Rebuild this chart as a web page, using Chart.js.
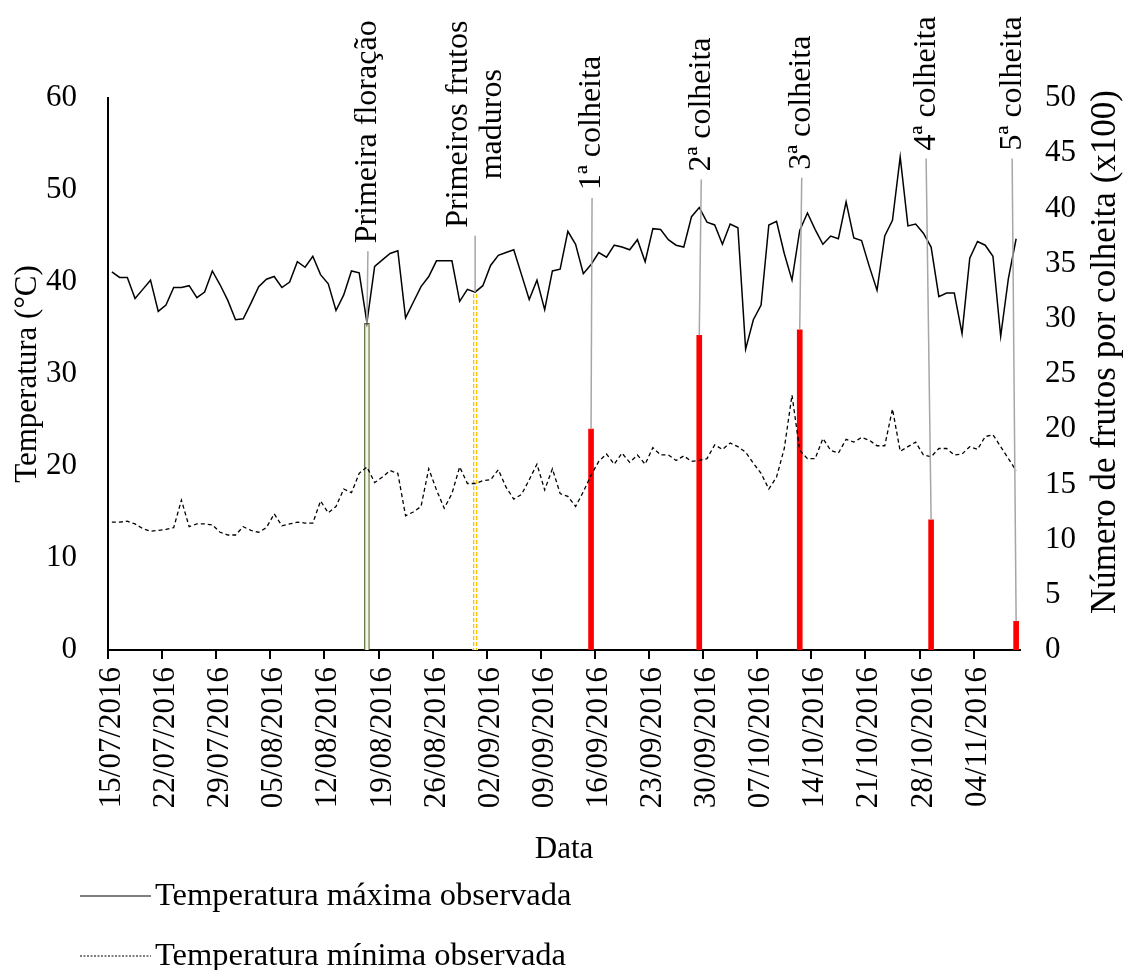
<!DOCTYPE html>
<html>
<head>
<meta charset="utf-8">
<script src="https://cdn.jsdelivr.net/npm/chart.js@4/dist/chart.umd.min.js"></script>
<style>
    html, body { margin: 0; padding: 0; background: #fff; }
    canvas { display: block; }
</style>
</head>
<body>
<canvas id="grafico" width="1124" height="970"></canvas>
<script>
// Datas (uma por dia, 15/07/2016 a 09/11/2016)
var datas = [
    "15/07/2016", "16/07/2016", "17/07/2016", "18/07/2016", "19/07/2016", "20/07/2016", "21/07/2016", "22/07/2016",
    "23/07/2016", "24/07/2016", "25/07/2016", "26/07/2016", "27/07/2016", "28/07/2016", "29/07/2016", "30/07/2016",
    "31/07/2016",
    "01/08/2016", "02/08/2016", "03/08/2016", "04/08/2016", "05/08/2016", "06/08/2016", "07/08/2016", "08/08/2016",
    "09/08/2016", "10/08/2016", "11/08/2016", "12/08/2016", "13/08/2016", "14/08/2016", "15/08/2016", "16/08/2016",
    "17/08/2016", "18/08/2016", "19/08/2016", "20/08/2016", "21/08/2016", "22/08/2016", "23/08/2016", "24/08/2016",
    "25/08/2016", "26/08/2016", "27/08/2016", "28/08/2016", "29/08/2016", "30/08/2016", "31/08/2016",
    "01/09/2016", "02/09/2016", "03/09/2016", "04/09/2016", "05/09/2016", "06/09/2016", "07/09/2016", "08/09/2016",
    "09/09/2016", "10/09/2016", "11/09/2016", "12/09/2016", "13/09/2016", "14/09/2016", "15/09/2016", "16/09/2016",
    "17/09/2016", "18/09/2016", "19/09/2016", "20/09/2016", "21/09/2016", "22/09/2016", "23/09/2016", "24/09/2016",
    "25/09/2016", "26/09/2016", "27/09/2016", "28/09/2016", "29/09/2016", "30/09/2016",
    "01/10/2016", "02/10/2016", "03/10/2016", "04/10/2016", "05/10/2016", "06/10/2016", "07/10/2016", "08/10/2016",
    "09/10/2016", "10/10/2016", "11/10/2016", "12/10/2016", "13/10/2016", "14/10/2016", "15/10/2016", "16/10/2016",
    "17/10/2016", "18/10/2016", "19/10/2016", "20/10/2016", "21/10/2016", "22/10/2016", "23/10/2016", "24/10/2016",
    "25/10/2016", "26/10/2016", "27/10/2016", "28/10/2016", "29/10/2016", "30/10/2016", "31/10/2016",
    "01/11/2016", "02/11/2016", "03/11/2016", "04/11/2016", "05/11/2016", "06/11/2016", "07/11/2016", "08/11/2016",
    "09/11/2016"
];

var tempMaxima = [
    41.1, 40.5, 40.5, 38.2, 39.2, 40.2, 36.8, 37.5, 39.4, 39.4, 39.6, 38.3, 38.9, 41.2, 39.7, 38.0, 35.9,
    36.0, 37.7, 39.5, 40.3, 40.6, 39.4, 40.0, 42.2, 41.6, 42.8, 40.8, 39.8, 36.9, 38.6, 41.2, 41.0,
    35.6, 41.7, 42.4, 43.1, 43.4, 36.1, 37.8, 39.5, 40.6, 42.3, 42.3, 42.3, 37.9, 39.2, 38.9,
    39.6, 41.8, 42.9, 43.2, 43.5, 40.8, 38.1, 40.2, 37.0, 41.2, 41.4, 45.5, 44.1, 40.9, 41.9,
    43.2, 42.7, 44.0, 43.8, 43.5, 44.6, 42.2, 45.8, 45.7, 44.6, 44.0, 43.8, 47.1, 48.1, 46.5,
    46.2, 44.1, 46.3, 45.9, 32.7, 35.9, 37.5, 46.2, 46.6, 43.1, 40.2, 45.6, 47.5, 45.7, 44.1, 45.0,
    44.7, 48.7, 44.8, 44.5, 41.7, 39.1, 45.0, 46.7, 53.6, 46.1, 46.3, 45.3, 43.8, 38.4, 38.8,
    38.8, 34.4, 42.6, 44.4, 44.0, 42.8, 34.1, 40.4, 44.7
];

var tempMinima = [
    13.9, 13.9, 14.0, 13.7, 13.2, 12.9, 13.0, 13.1, 13.3, 16.3, 13.4, 13.7, 13.7, 13.6, 12.8, 12.5, 12.5,
    13.4, 13.0, 12.8, 13.3, 14.8, 13.5, 13.7, 13.9, 13.8, 13.8, 16.2, 14.9, 15.6, 17.5, 17.1, 19.2,
    19.9, 18.2, 18.8, 19.5, 19.2, 14.6, 15.0, 15.6, 19.7, 17.4, 15.4, 17.0, 19.9, 18.1, 18.1,
    18.4, 18.5, 19.6, 17.7, 16.4, 16.9, 18.5, 20.2, 17.4, 19.7, 17.0, 16.7, 15.6, 17.2, 19.0,
    20.5, 21.3, 20.2, 21.4, 20.4, 21.2, 20.2, 22.0, 21.2, 21.2, 20.6, 21.1, 20.5, 20.6, 20.8,
    22.3, 21.8, 22.5, 22.1, 21.5, 20.3, 19.2, 17.5, 18.8, 21.9, 27.7, 21.7, 20.8, 20.8, 23.0, 21.7,
    21.4, 22.9, 22.6, 23.1, 22.8, 22.2, 22.2, 26.2, 21.6, 22.1, 22.6, 21.2, 21.0, 21.9, 21.9,
    21.2, 21.3, 22.1, 21.8, 23.2, 23.4, 22.1, 20.8, 19.5
];

// Colheitas (numero de frutos x100)
var colheitaDatas = ["15/09/2016", "29/09/2016", "12/10/2016", "29/10/2016", "09/11/2016"];
var colheitaFrutos = [20.0, 28.5, 29.0, 11.8, 2.6];
var colheitaNomes = ["1ª colheita", "2ª colheita", "3ª colheita", "4ª colheita", "5ª colheita"];

// Eventos fenologicos (altura da barra na escala de temperatura)
var eventoDatas = ["17/08/2016", "31/08/2016"];
var eventoAltura = [35.5, 38.9];

var fonte = '"Liberation Serif", "Times New Roman", serif';

function pontos(xs, ys) {
    return xs.map(function (x, i) { return { x: x, y: ys[i] }; });
};

// Barra com contorno amarelo tracejado (padrao desenhado na posicao da barra)
function contornoTracejado(c) {
    var xc = c.chart.scales.x.getPixelForValue(c.parsed ? c.parsed.x : 0);
    if (!isFinite(xc)) {
        return "#ffffff";
    };
    var tela = document.createElement("canvas");
    tela.width = Math.ceil(xc) + 6;
    tela.height = 6;
    var g = tela.getContext("2d");
    g.fillStyle = "#ffffff";
    g.fillRect(0, 0, tela.width, tela.height);
    g.fillStyle = "#ffc000";
    g.fillRect(Math.round(xc - 2.5), 0, 1.3, 4);
    g.fillRect(Math.round(xc + 1.3), 0, 1.3, 4);
    return c.chart.ctx.createPattern(tela, "repeat");
};

// Rotulos com linha de chamada: dataset, item, linhas de texto, base do texto (escala esquerda), deslocamento x
var marcos = [
    { dataset: 3, item: 0, texto: ["Primeira floração"], base: 44.2, dx: 1 },
    { dataset: 4, item: 0, texto: ["Primeiros frutos", "maduros"], base: 45.9, dx: 0 },
    { dataset: 2, item: 0, texto: [colheitaNomes[0]], base: 50.0, dx: 1 },
    { dataset: 2, item: 1, texto: [colheitaNomes[1]], base: 52.0, dx: 2 },
    { dataset: 2, item: 2, texto: [colheitaNomes[2]], base: 52.2, dx: 2 },
    { dataset: 2, item: 3, texto: [colheitaNomes[3]], base: 54.3, dx: -5 },
    { dataset: 2, item: 4, texto: [colheitaNomes[4]], base: 54.3, dx: -4 }
];

var rotulosPlugin = {
    id: "rotulos",
    afterDatasetsDraw: function (chart) {
        var ctx = chart.ctx;
        var yScale = chart.scales.y;
        ctx.save();
        ctx.font = "32px " + fonte;
        ctx.fillStyle = "#000";
        marcos.forEach(function (m) {
            var barra = chart.getDatasetMeta(m.dataset).data[m.item];
            var xTexto = barra.x + m.dx;
            var yBase = yScale.getPixelForValue(m.base);

            ctx.strokeStyle = "#a6a6a6";
            ctx.lineWidth = 1.5;
            ctx.setLineDash([]);
            ctx.beginPath();
            ctx.moveTo(xTexto, yBase + 8);
            ctx.lineTo(barra.x, barra.y);
            ctx.stroke();

            var largura = 0;
            m.texto.forEach(function (t) { largura = Math.max(largura, ctx.measureText(t).width); });
            ctx.save();
            ctx.translate(xTexto, yBase - largura / 2);
            ctx.rotate(-Math.PI / 2);
            ctx.textAlign = "center";
            ctx.textBaseline = "middle";
            m.texto.forEach(function (t, k) {
                ctx.fillText(t, 0, (k - (m.texto.length - 1) / 2) * 34);
            });
            ctx.restore();
        });
        ctx.restore();
    },
    afterDraw: function (chart) {
        var ctx = chart.ctx;
        ctx.save();
        ctx.fillStyle = "#000";

        // titulo do eixo secundario, lido de baixo para cima
        ctx.save();
        ctx.font = "35px " + fonte;
        ctx.translate(1106, 352);
        ctx.rotate(-Math.PI / 2);
        ctx.textAlign = "center";
        ctx.textBaseline = "middle";
        ctx.fillText("Número de frutos por colheita (x100)", 0, 0);
        ctx.restore();

        // legenda das temperaturas
        ctx.font = "32.5px " + fonte;
        [0, 1].forEach(function (k, n) {
            var ds = chart.data.datasets[k];
            var y = 896 + n * 60;
            ctx.strokeStyle = "#000";
            ctx.lineWidth = 1.2;
            ctx.setLineDash(k === 1 ? [2, 1.5] : []);
            ctx.beginPath();
            ctx.moveTo(80, y);
            ctx.lineTo(151, y);
            ctx.stroke();
            ctx.setLineDash([]);
            ctx.textAlign = "left";
            ctx.textBaseline = "middle";
            ctx.fillText(ds.label, 155, y);
        });
        ctx.restore();
    }
};

Chart.defaults.font.family = fonte;
Chart.defaults.font.size = 31;
Chart.defaults.color = "#000";

var ctx = document.getElementById("grafico").getContext("2d");

new Chart(ctx, {
    data: {
        labels: datas,
        datasets: [
            {
                type: "line",
                label: "Temperatura máxima observada",
                data: tempMaxima,
                borderColor: "#000",
                borderWidth: 1.5,
                pointRadius: 0,
                tension: 0,
                yAxisID: "y",
                order: 0
            },
            {
                type: "line",
                label: "Temperatura mínima observada",
                data: tempMinima,
                borderColor: "#000",
                borderWidth: 1.3,
                borderDash: [4, 3],
                pointRadius: 0,
                tension: 0,
                yAxisID: "y",
                order: 0
            },
            {
                type: "bar",
                label: "Colheitas",
                data: pontos(colheitaDatas, colheitaFrutos),
                backgroundColor: "#ff0000",
                barThickness: 5,
                grouped: false,
                yAxisID: "y1",
                order: 1
            },
            {
                type: "bar",
                label: "Primeira floração",
                data: pontos([eventoDatas[0]], [eventoAltura[0]]),
                backgroundColor: "#f4f7ec",
                borderColor: "#4f6228",
                borderWidth: 1.2,
                barThickness: 5,
                grouped: false,
                yAxisID: "y",
                order: 1
            },
            {
                type: "bar",
                label: "Primeiros frutos maduros",
                data: pontos([eventoDatas[1]], [eventoAltura[1]]),
                backgroundColor: contornoTracejado,
                borderWidth: 0,
                barThickness: 5,
                grouped: false,
                yAxisID: "y",
                order: 1
            }
        ]
    },
    options: {
        responsive: false,
        animation: false,
        layout: { padding: { top: 98, bottom: 100, left: 0, right: 0 } },
        plugins: {
            legend: { display: false },
            tooltip: { enabled: false }
        },
        scales: {
            x: {
                type: "category",
                offset: true,
                grid: {
                    display: true,
                    offset: true,
                    drawOnChartArea: false,
                    drawTicks: true,
                    tickLength: 9,
                    lineWidth: 2,
                    color: function (c) { return c.index % 7 === 0 ? "#000" : "rgba(0,0,0,0)"; }
                },
                border: { display: true, color: "#000", width: 2 },
                ticks: {
                    autoSkip: false,
                    minRotation: 90,
                    maxRotation: 90,
                    padding: 8,
                    callback: function (v, i) { return i % 7 === 0 ? this.getLabelForValue(v) : ""; }
                },
                title: { display: true, text: "Data", padding: { top: 0, bottom: 2 } },
                afterFit: function (s) { s.height = 220; }
            },
            y: {
                position: "left",
                min: 0,
                max: 60,
                ticks: { stepSize: 10, padding: 31 },
                grid: { display: false, drawTicks: false },
                border: { display: true, color: "#000", width: 2 },
                title: { display: true, text: "Temperatura (°C)", padding: { top: 9, bottom: 0 } },
                afterFit: function (s) { s.width = 108; }
            },
            y1: {
                position: "right",
                min: 0,
                max: 50,
                ticks: { stepSize: 5, padding: 25 },
                grid: { display: false, drawTicks: false },
                border: { display: false },
                afterFit: function (s) { s.width = 104; }
            }
        }
    },
    plugins: [rotulosPlugin]
});
</script>
</body>
</html>
